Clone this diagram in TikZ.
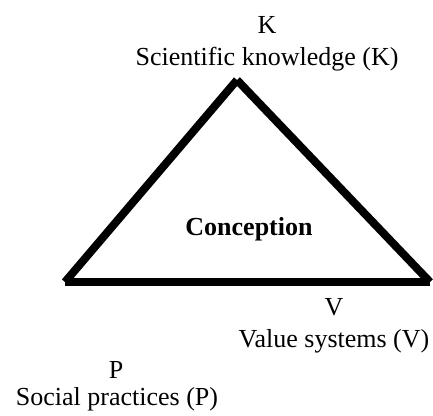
\documentclass[tikz,border=0pt]{standalone}
\usepackage{fontspec}
\setmainfont{Liberation Serif}
\usetikzlibrary{calc}

\begin{document}
\begin{tikzpicture}[x=1pt, y=-1pt, side/.style={line width=8pt}, corner text/.style={font=\fontsize{26}{32}\selectfont, inner sep=0pt, anchor=base}]

        \useasboundingbox (0,0) rectangle (433,415);

        % CORNERS
        \coordinate (apex) at (237,80);
        \coordinate (left) at (65,282);
        \coordinate (right) at (430,282);

        % TRIANGLE
        \draw[side] (apex) -- (left);
        \draw[side] (left) -- (right);
        \draw[side] (right) -- (apex);

        % CENTRE
        \node[corner text, font=\fontsize{26}{32}\selectfont\bfseries] (conc) at (249,235) {Conception};

        % K
        \node[corner text] (kLetter) at (267,33) {K};
        \node[corner text] (kName) at ($(kLetter.base) + (0,32)$) {Scientific knowledge (K)};

        % V
        \node[corner text] (vLetter) at (334,315) {V};
        \node[corner text] (vName) at ($(vLetter.base) + (0,32)$) {Value systems (V)};

        % P
        \node[corner text] (pLetter) at (116,378) {P};
        \node[corner text] (pName) at ($(pLetter.base) + (1,27)$) {Social practices (P)};

    \end{tikzpicture}
\end{document}
